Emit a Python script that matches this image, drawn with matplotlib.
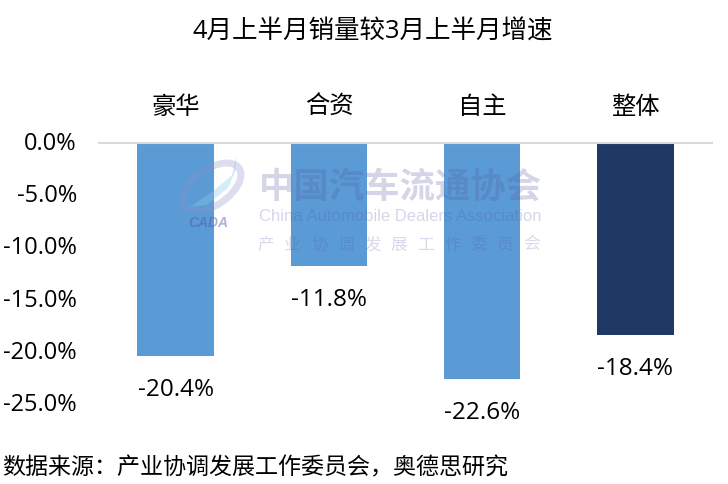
import matplotlib.pyplot as plt
from matplotlib.patches import Ellipse, Polygon
from matplotlib.transforms import IdentityTransform, ScaledTranslation

plt.rcParams['font.family'] = ['Open Sans', 'Noto Sans CJK SC', 'DejaVu Sans']

# --- data ---
brands = ["豪华", "合资", "自主", "整体"]
growth = [-20.4, -11.8, -22.6, -18.4]
bar_colors = ["#5B9BD5", "#5B9BD5", "#5B9BD5", "#1F3864"]
y_ticks = [0, -5, -10, -15, -20, -25]
wm_committee = "产业协调发展工作委员会"

fig = plt.figure(figsize=(7.28, 4.84), dpi=100)
ax = fig.add_axes([99 / 728, 1 - 404 / 484, (712 - 99) / 728, (404 - 143) / 484])

x = range(len(brands))
ax.bar(x, growth, width=0.5, color=bar_colors, zorder=2)
ax.set_xlim(-0.5, 3.5)
ax.set_ylim(-25, 0)

ax.set_yticks(y_ticks)
ax.set_yticklabels([f"{v:.1f}%" for v in y_ticks], fontsize=17, color="black")
ax.tick_params(axis="y", length=0, pad=16)
ax.tick_params(axis="x", length=0, labelbottom=False)
for label in ax.get_yticklabels():
    label.set_transform(label.get_transform() + ScaledTranslation(0, 2 / 100, fig.dpi_scale_trans))

for side in ["left", "right", "bottom"]:
    ax.spines[side].set_visible(False)
ax.spines["top"].set_color("#D9D9D9")
ax.spines["top"].set_linewidth(1.5)

# value labels under the bars, names above the axis
for i, v in enumerate(growth):
    ax.annotate(f"{v:.1f}%", (i, v), xytext=(0, -24.5), textcoords="offset points",
                ha="center", va="center", fontsize=17.5, color="black", zorder=4)
    ax.annotate(brands[i], (i, 0), xytext=(0, 25), textcoords="offset points",
                ha="center", va="center", fontsize=17.5, color="black")

# --- watermark ---
wm = "#4F55A0"
px = IdentityTransform()
fig.add_artist(Ellipse((212, 484 - 187), 66, 36, angle=35, fill=False, edgecolor="#8C90C8",
                       linewidth=5, alpha=0.3, transform=px))
fig.add_artist(Polygon([(236, 484 - 157), (232, 484 - 175), (212, 484 - 192), (190, 484 - 207),
                        (207, 484 - 205), (228, 484 - 188), (236, 484 - 170)],
                       closed=True, facecolor="#8CCBEB", edgecolor="none", alpha=0.35,
                       transform=px))
fig.text(208 / 728, 1 - 223 / 484, "CADA", fontsize=10, style="italic", weight="bold",
         family="Liberation Sans", color=wm, alpha=0.45, ha="center", va="center")
fig.text(400 / 728, 1 - 187 / 484, "中国汽车流通协会", fontsize=25.5, weight="bold",
         family="Noto Sans CJK SC", color=wm, alpha=0.24, ha="center", va="center")
fig.text(400 / 728, 1 - 216 / 484, "China Automobile Dealers Association", fontsize=12,
         family="Liberation Sans", color=wm, alpha=0.24, ha="center", va="center")
for i, ch in enumerate(wm_committee):
    fig.text((266 + i * 26.6) / 728, 1 - 245 / 484, ch, fontsize=12,
             family="Noto Sans CJK SC", color=wm, alpha=0.22, ha="center", va="center")

fig.text(373 / 728, 1 - 32 / 484, "4月上半月销量较3月上半月增速", fontsize=18.4,
         ha="center", va="center", color="black")
fig.text(2 / 728, 1 - 468 / 484, "数据来源：产业协调发展工作委员会，奥德思研究", fontsize=16.6,
         ha="left", va="center", color="black")

fig.savefig("out.png", dpi=100)
